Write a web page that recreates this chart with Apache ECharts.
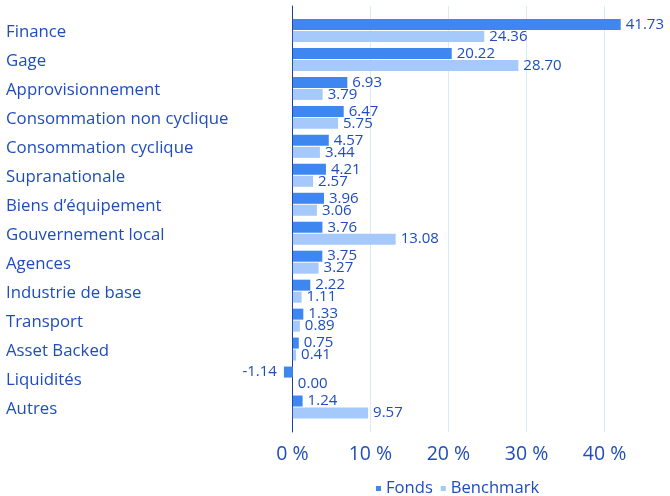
<!DOCTYPE html>
<html><head><meta charset="utf-8">
<script src="https://cdn.jsdelivr.net/npm/echarts@6/dist/echarts.min.js"></script>
<style>html,body{margin:0;padding:0;background:#fff}#c{width:670px;height:496px}</style>
</head><body><div id="c"></div>
<script>
var categories = ["Finance","Gage","Approvisionnement","Consommation non cyclique","Consommation cyclique","Supranationale","Biens d\u2019\u00e9quipement","Gouvernement local","Agences","Industrie de base","Transport","Asset Backed","Liquidit\u00e9s","Autres"];
var fonds = [41.73,20.22,6.93,6.47,4.57,4.21,3.96,3.76,3.75,2.22,1.33,0.75,-1.14,1.24];
var benchmark = [24.36,28.70,3.79,5.75,3.44,2.57,3.06,13.08,3.27,1.11,0.89,0.41,0.00,9.57];
var xTicks = [0,10,20,30,40];
var seriesNames = ["Fonds","Benchmark"];

var FONT = "Open Sans";
var TXT = "#1f4dbb";
var C1 = "#3f87f0", C2 = "#a5c9fa";
var xMin = -10, xMax = 48;
var gridPos = {left: 214.3, right: -2.5};
var chart = echarts.init(document.getElementById('c'), null, {renderer:'canvas'});
function mk(vals){
  return vals.map(function(v){
    return {value:v, label:{position: v < 0 ? 'left' : 'right', distance: v < 0 ? 7 : 5}};
  });
}
var lbl = {show:true, color:TXT, fontFamily:FONT, fontSize:15,
  formatter:function(p){return p.value.toFixed(2);}};
chart.setOption({
  animation:false,
  textStyle:{fontFamily:FONT},
  legend:{top:475, left:371, itemWidth:5, itemHeight:5, itemGap:8, icon:'rect',
    textStyle:{color:TXT, fontSize:16.6, fontFamily:FONT}, data:seriesNames},
  grid:[
    {left:gridPos.left, right:gridPos.right, top:16, height:405.5},
    {left:gridPos.left, right:gridPos.right, top:6, height:426}
  ],
  xAxis:[
    {gridIndex:0, type:'value', min:xMin, max:xMax, interval:10, show:false},
    {gridIndex:1, type:'value', min:xMin, max:xMax, interval:10,
      axisLine:{show:false}, axisTick:{show:false},
      axisLabel:{color:TXT, fontSize:19.5, fontFamily:FONT, margin:12,
        formatter:function(v){return xTicks.indexOf(v)>=0 ? v+' %' : '';}},
      splitLine:{show:true, lineStyle:{color:['rgba(0,0,0,0)','#dce9fb','#dce9fb','#dce9fb','#dce9fb','#dce9fb','rgba(0,0,0,0)'], width:1}}}
  ],
  yAxis:[
    {gridIndex:0, type:'category', data:categories, inverse:true,
      axisLine:{show:false}, axisTick:{show:false}, splitLine:{show:false},
      axisLabel:{align:'left', margin:gridPos.left-6, color:TXT, fontSize:16.8, fontFamily:FONT,
        formatter:function(v){return '{a|' + v + '}';},
        rich:{a:{color:TXT, fontSize:16.8, fontFamily:FONT, padding:[4,0,0,0]}}}},
    {gridIndex:1, type:'value', min:0, max:1,
      axisLine:{show:true, onZero:true, lineStyle:{color:'#1a3fa0', width:1}},
      axisTick:{show:false}, axisLabel:{show:false}, splitLine:{show:false}}
  ],
  series:[
    {name:seriesNames[0], type:'bar', xAxisIndex:0, yAxisIndex:0, data:mk(fonds), barWidth:11, barGap:'9%',
      itemStyle:{color:C1}, label:lbl},
    {name:seriesNames[1], type:'bar', xAxisIndex:0, yAxisIndex:0, data:mk(benchmark), barWidth:11, barGap:'9%',
      itemStyle:{color:C2}, label:lbl}
  ]
});
</script></body></html>
